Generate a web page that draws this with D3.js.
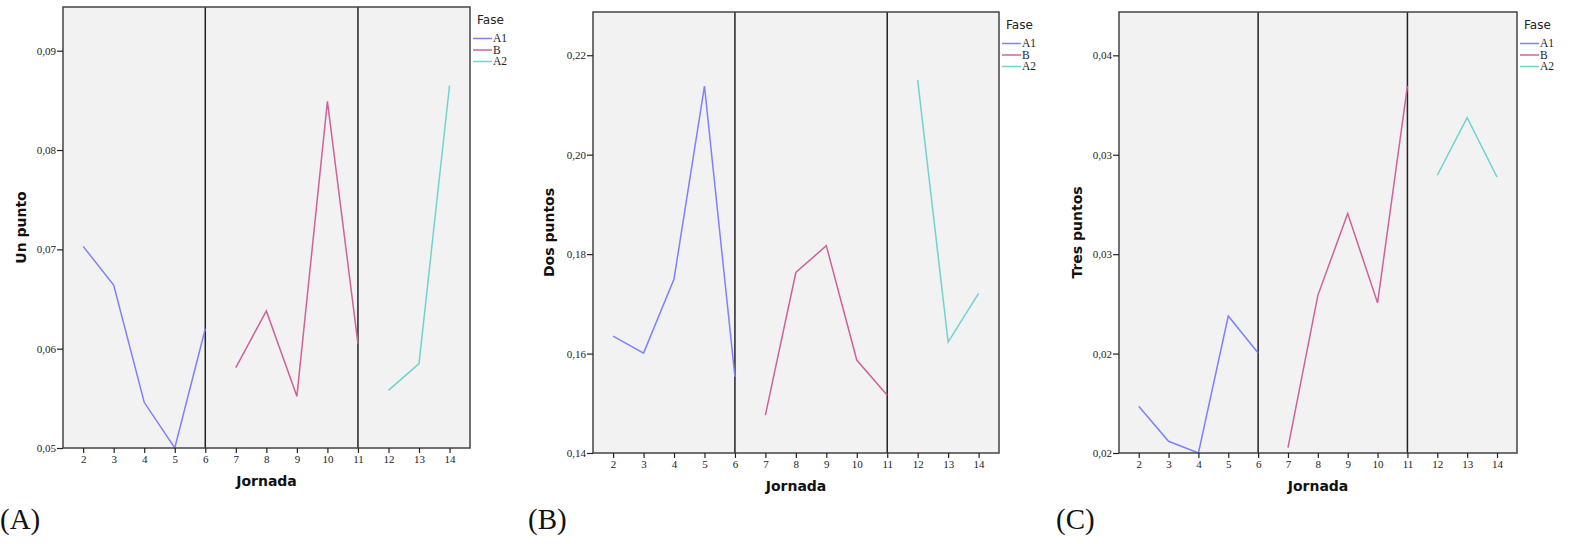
<!DOCTYPE html>
<html>
<head>
<meta charset="utf-8">
<script src="https://cdn.jsdelivr.net/npm/d3@7"></script>
<style>
  body { margin: 0; background: #fff; }
  svg { display: block; }
</style>
</head>
<body>
<svg id="chart" width="1574" height="544"></svg>
<script>
// jornadas and phases
const jornadasA1 = [2, 3, 4, 5, 6];
const jornadasB = [7, 8, 9, 10, 11];
const jornadasA2 = [12, 13, 14];
const xTickValues = [2, 3, 4, 5, 6, 7, 8, 9, 10, 11, 12, 13, 14];
const phaseBreaks = [6, 11];
const faseNames = ["A1", "B", "A2"];

// (A) Un punto
const unPuntoA1 = [0.0703, 0.0664, 0.0546, 0.0500, 0.0620];
const unPuntoB = [0.0581, 0.0638, 0.0552, 0.0849, 0.0605];
const unPuntoA2 = [0.0558, 0.0585, 0.0865];
const unPuntoTicks = [0.05, 0.06, 0.07, 0.08, 0.09];
const unPuntoTickLabels = ["0,05", "0,06", "0,07", "0,08", "0,09"];

// (B) Dos puntos
const dosPuntosA1 = [0.1635, 0.1601, 0.1750, 0.2138, 0.1553];
const dosPuntosB = [0.1476, 0.1763, 0.1817, 0.1587, 0.1516];
const dosPuntosA2 = [0.2150, 0.1623, 0.1721];
const dosPuntosTicks = [0.14, 0.16, 0.18, 0.20, 0.22];
const dosPuntosTickLabels = ["0,14", "0,16", "0,18", "0,20", "0,22"];

// (C) Tres puntos
const tresPuntosA1 = [0.02235, 0.02059, 0.0200, 0.02689, 0.02503];
const tresPuntosB = [0.02027, 0.02793, 0.03204, 0.02755, 0.03845];
const tresPuntosA2 = [0.03397, 0.03687, 0.03388];
const tresPuntosTicks = [0.02, 0.025, 0.03, 0.035, 0.04];
const tresPuntosTickLabels = ["0,02", "0,02", "0,03", "0,03", "0,04"];

const faseColors = ["#7c82ff", "#d0629a", "#6fd3d3"];

const panels = [
  { tag: "(A)", yLabel: "Un punto", series: [unPuntoA1, unPuntoB, unPuntoA2],
    yDomain: [0.05, 0.0944], ticks: unPuntoTicks, tickLabels: unPuntoTickLabels,
    box: { left: 63, top: 7, right: 470, bottom: 448 }, yLabelX: 21, tagX: 0 },
  { tag: "(B)", yLabel: "Dos puntos", series: [dosPuntosA1, dosPuntosB, dosPuntosA2],
    yDomain: [0.14, 0.2287], ticks: dosPuntosTicks, tickLabels: dosPuntosTickLabels,
    box: { left: 593, top: 12, right: 999, bottom: 453 }, yLabelX: 549, tagX: 528 },
  { tag: "(C)", yLabel: "Tres puntos", series: [tresPuntosA1, tresPuntosB, tresPuntosA2],
    yDomain: [0.02, 0.04218], ticks: tresPuntosTicks, tickLabels: tresPuntosTickLabels,
    box: { left: 1119, top: 12, right: 1517, bottom: 453 }, yLabelX: 1077, tagX: 1056 }
];

const jornadaGroups = [jornadasA1, jornadasB, jornadasA2];
const svg = d3.select("#chart");

panels.forEach(p => {
  const b = p.box;
  const g = svg.append("g");

  const x = d3.scaleLinear().domain([1.34, 14.67]).range([b.left, b.right]);
  const y = d3.scaleLinear().domain(p.yDomain).range([b.bottom, b.top]);

  g.append("rect")
    .attr("x", b.left).attr("y", b.top)
    .attr("width", b.right - b.left).attr("height", b.bottom - b.top)
    .attr("fill", "#f2f2f2");

  // phase change lines
  g.selectAll(".phase")
    .data(phaseBreaks)
    .enter().append("line")
    .attr("x1", d => x(d)).attr("x2", d => x(d))
    .attr("y1", b.top).attr("y2", b.bottom)
    .attr("stroke", "#222").attr("stroke-width", 1.5);

  const line = d3.line().x(d => x(d[0])).y(d => y(d[1]));
  p.series.forEach((vals, i) => {
    const pts = jornadaGroups[i].map((j, k) => [j, vals[k]]);
    g.append("path")
      .attr("d", line(pts))
      .attr("fill", "none")
      .attr("stroke", faseColors[i])
      .attr("stroke-width", 1.5);
  });

  g.append("rect")
    .attr("x", b.left).attr("y", b.top)
    .attr("width", b.right - b.left).attr("height", b.bottom - b.top)
    .attr("fill", "none").attr("stroke", "#444").attr("stroke-width", 1.5);

  const yAxis = d3.axisLeft(y)
    .tickValues(p.ticks)
    .tickSize(6)
    .tickPadding(1)
    .tickFormat((d, i) => p.tickLabels[i]);
  const ya = g.append("g").attr("transform", `translate(${b.left},0)`).call(yAxis);
  ya.select(".domain").remove();

  const xAxis = d3.axisBottom(x)
    .tickValues(xTickValues)
    .tickSize(5)
    .tickPadding(2)
    .tickFormat(d3.format("d"));
  const xa = g.append("g").attr("transform", `translate(0,${b.bottom})`).call(xAxis);
  xa.select(".domain").remove();

  [ya, xa].forEach(a => {
    a.selectAll("line").attr("stroke", "#222").attr("stroke-width", 1.2);
    a.selectAll("text")
      .attr("font-family", "'Liberation Serif', 'DejaVu Serif', serif")
      .attr("font-size", 11)
      .attr("fill", "#222");
  });

  // axis titles
  g.append("text")
    .attr("x", (b.left + b.right) / 2)
    .attr("y", b.bottom + 38)
    .attr("text-anchor", "middle")
    .attr("font-family", "'DejaVu Sans', sans-serif")
    .attr("font-weight", "bold")
    .attr("font-size", 14)
    .attr("fill", "#111")
    .text("Jornada");

  g.append("text")
    .attr("transform", `translate(${p.yLabelX + 5},${(b.top + b.bottom) / 2}) rotate(-90)`)
    .attr("text-anchor", "middle")
    .attr("font-family", "'DejaVu Sans', sans-serif")
    .attr("font-weight", "bold")
    .attr("font-size", 14)
    .attr("fill", "#111")
    .text(p.yLabel);

  // legend
  const lg = g.append("g").attr("transform", `translate(${b.right + 3},${b.top})`);
  lg.append("text")
    .attr("x", 4).attr("y", 17)
    .attr("font-family", "'DejaVu Sans', sans-serif")
    .attr("font-size", 12)
    .attr("fill", "#222")
    .text("Fase");
  faseNames.forEach((name, i) => {
    const yy = 31.5 + i * 11.5;
    lg.append("line")
      .attr("x1", 0).attr("x2", 19)
      .attr("y1", yy).attr("y2", yy)
      .attr("stroke", faseColors[i]).attr("stroke-width", 1.5);
    lg.append("text")
      .attr("x", 20).attr("y", yy + 3.5)
      .attr("font-family", "'Liberation Serif', 'DejaVu Serif', serif")
      .attr("font-size", 11.5)
      .attr("fill", "#222")
      .text(name);
  });

  // panel tag
  svg.append("text")
    .attr("x", p.tagX)
    .attr("y", 529)
    .attr("font-family", "'Liberation Serif', 'DejaVu Serif', serif")
    .attr("font-size", 29)
    .attr("fill", "#111")
    .text(p.tag);
});
</script>
</body>
</html>
